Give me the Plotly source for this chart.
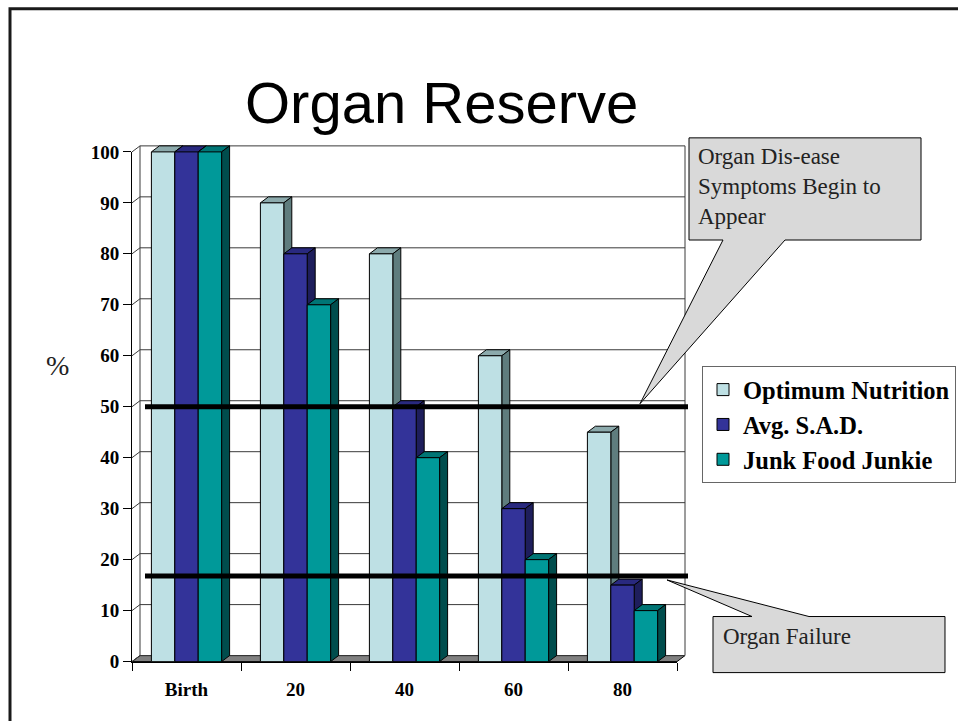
import plotly.graph_objects as go

# ---------------- data ----------------
categories = ["Birth", "20", "40", "60", "80"]
series_names = ["Optimum Nutrition", "Avg. S.A.D.", "Junk Food Junkie"]
optimum_nutrition = [100, 90, 80, 60, 45]
avg_sad = [100, 80, 50, 30, 15]
junk_food_junkie = [100, 70, 40, 20, 10]
y_tick_values = [0, 10, 20, 30, 40, 50, 60, 70, 80, 90, 100]
threshold_levels = [50, 16.8]
title_text = "Organ Reserve"
callout_top_text = "Organ Dis-ease<br>Symptoms Begin to<br>Appear"
callout_bottom_text = "Organ Failure"

series_values = [optimum_nutrition, avg_sad, junk_food_junkie]

# ---------------- style / geometry ----------------
W = 958
H_PAGE = 745
# observed vertical mapping of the photographed page: screen = A + B * page
SY_A, SY_B = 9.3, 0.9705

front_col = ["#BEE0E4", "#333399", "#009999"]
side_col = ["#5F7D7E", "#1E1E5C", "#004D4D"]
top_col = ["#8CAAAC", "#29297F", "#007575"]

# pixel frame (screen) of the front axes
X_L, X_R = 132, 677        # x = -0.5 .. 4.5
Y_0, Y_100 = 660, 151      # value 0 .. 100
PX_PER_X = (X_R - X_L) / 5.0
PX_PER_Y = (Y_0 - Y_100) / 100.0
DX = 8 / PX_PER_X          # 3-D depth, in data units
DY = 6 / PX_PER_Y

BARGAP = 0.356
BW = (1 - BARGAP) / 3.0


def fx(px):
    return px / W


def fy(py):
    page = (py - SY_A) / SY_B
    return 1 - page / H_PAGE


def xpx(x):
    return X_L + (x + 0.5) * PX_PER_X


def ypx(v):
    return Y_0 - v * PX_PER_Y


# base (back) subplot range, extended so 3-D parts are not clipped
BX = [-0.7, 4.8]
BY = [-3.0, 106.0]

fig = go.Figure()

# ---- 3-D top / side faces (base subplot x/y) ----
for j, vals in enumerate(series_values):
    tx, ty, sx, sy = [], [], [], []
    for i, v in enumerate(vals):
        xc = i + (j - 1) * BW
        xl, xr = xc - BW / 2, xc + BW / 2
        tx += [xl, xr, xr + DX, xl + DX, xl, None]
        ty += [v, v, v + DY, v + DY, v, None]
        sx += [xr, xr, xr + DX, xr + DX, xr, None]
        sy += [0, v, v + DY, DY, 0, None]
    fig.add_trace(go.Scatter(x=tx, y=ty, mode="lines", fill="toself",
                             fillcolor=top_col[j], line=dict(color="black", width=1),
                             hoverinfo="skip", showlegend=False, xaxis="x", yaxis="y"))
    fig.add_trace(go.Scatter(x=sx, y=sy, mode="lines", fill="toself",
                             fillcolor=side_col[j], line=dict(color="black", width=1),
                             hoverinfo="skip", showlegend=False, xaxis="x", yaxis="y"))

# ---- front bars (front subplot x2/y2) ----
for j, vals in enumerate(series_values):
    fig.add_trace(go.Bar(x=categories, y=vals, name=series_names[j],
                         marker=dict(color=front_col[j], line=dict(color="black", width=1)),
                         legendgroup=str(j), xaxis="x2", yaxis="y2"))

shapes = []
# floor
shapes.append(dict(type="path", xref="x", yref="y", layer="below",
                   path=f"M {-0.5},{0} L {4.5},{0} L {4.5 + DX},{DY} L {-0.5 + DX},{DY} Z",
                   fillcolor="#808080", line=dict(color="black", width=1)))
# back wall gridlines + left wall diagonals
for v in y_tick_values:
    shapes.append(dict(type="path", xref="x", yref="y", layer="below",
                       path=f"M {-0.5},{v} L {-0.5 + DX},{v + DY} L {4.5 + DX},{v + DY}",
                       line=dict(color="#3a3a3a", width=1)))
# back wall verticals
for xv in [-0.5 + DX, 4.5 + DX]:
    shapes.append(dict(type="line", xref="x", yref="y", layer="below",
                       x0=xv, x1=xv, y0=DY, y1=100 + DY,
                       line=dict(color="#3a3a3a", width=1)))
# threshold lines
line_x0 = -0.5 + (145 - X_L) / PX_PER_X
line_x1 = -0.5 + (688 - X_L) / PX_PER_X
for lv in threshold_levels:
    shapes.append(dict(type="line", xref="x", yref="y", layer="above",
                       x0=line_x0, x1=line_x1, y0=lv, y1=lv,
                       line=dict(color="black", width=5)))


def ppath(pts):
    s = "M " + " L ".join(f"{fx(a):.5f},{fy(b):.5f}" for a, b in pts) + " Z"
    return s


# callout 1
tip1 = (640, ypx(threshold_levels[0]) - 3)
shapes.append(dict(type="path", xref="paper", yref="paper", layer="above",
                   path=ppath([(689, 137), (921, 137), (921, 239), (785, 239), tip1,
                               (723, 239), (689, 239)]),
                   fillcolor="#D9D9D9", line=dict(color="black", width=1)))
# callout 2
tip2 = (667, ypx(threshold_levels[1]) + 4)
shapes.append(dict(type="path", xref="paper", yref="paper", layer="above",
                   path=ppath([(713, 615), (752, 615), tip2, (809, 615), (945, 615),
                               (945, 671), (713, 671)]),
                   fillcolor="#D9D9D9", line=dict(color="black", width=1)))
# slide frame
shapes.append(dict(type="path", xref="paper", yref="paper", layer="above",
                   path=f"M {fx(10)},{fy(760)} L {fx(10)},{fy(8)} L {fx(970)},{fy(8)}",
                   line=dict(color="#1a1a1a", width=3)))

annotations = [
    dict(text=title_text, x=fx(441), y=fy(102), xref="paper", yref="paper",
         showarrow=False, xanchor="center", yanchor="middle",
         font=dict(family="Liberation Sans", size=58, color="black")),
    dict(text="%", x=fx(57), y=fy(364), xref="paper", yref="paper",
         showarrow=False, xanchor="center", yanchor="middle",
         font=dict(family="Liberation Serif", size=28, color="#222")),
    dict(text=callout_top_text, x=fx(696), y=fy(141), xref="paper", yref="paper",
         showarrow=False, xanchor="left", yanchor="top", align="left",
         font=dict(family="Liberation Serif", size=23, color="#222")),
    dict(text=callout_bottom_text, x=fx(721), y=fy(635), xref="paper", yref="paper",
         showarrow=False, xanchor="left", yanchor="middle", align="left",
         font=dict(family="Liberation Serif", size=23, color="#222")),
]

tick_font = dict(family="Liberation Serif", size=19, color="black", weight="bold")

fig.update_layout(
    width=W, height=H_PAGE, autosize=False,
    margin=dict(l=0, r=0, t=0, b=0),
    paper_bgcolor="white", plot_bgcolor="rgba(0,0,0,0)",
    barmode="group", bargap=BARGAP, bargroupgap=0,
    shapes=shapes, annotations=annotations,
    xaxis=dict(domain=[fx(xpx(BX[0])), fx(xpx(BX[1]))], range=BX, visible=False,
               anchor="y", fixedrange=True),
    yaxis=dict(domain=[fy(ypx(BY[0])), fy(ypx(BY[1]))], range=BY, visible=False,
               anchor="x", fixedrange=True),
    xaxis2=dict(domain=[fx(X_L), fx(X_R)], anchor="y2", type="category",
                range=[-0.5, 4.5], tickson="boundaries", ticks="outside", ticklen=8,
                tickcolor="black", showline=True, linecolor="black", linewidth=1,
                showgrid=False, tickfont=tick_font, ticklabelstandoff=11,
                fixedrange=True),
    yaxis2=dict(domain=[fy(Y_0), fy(Y_100)], anchor="x2", range=[0, 100],
                tickvals=y_tick_values, ticks="outside", ticklen=8, tickcolor="black",
                showline=True, linecolor="black", linewidth=1, showgrid=False,
                zeroline=False, tickfont=tick_font, fixedrange=True),
    legend=dict(x=fx(702), y=fy(365), xanchor="left", yanchor="top",
                bgcolor="white", bordercolor="#666", borderwidth=1,
                font=dict(family="Liberation Serif", size=24.5, color="black", weight="bold"),
                tracegroupgap=0, traceorder="grouped"),
    showlegend=True,
)

page_fix = (
    "document.documentElement.style.margin='0';"
    "document.documentElement.style.overflow='hidden';"
    "document.body.style.margin='0';"
    "document.body.style.overflow='hidden';"
    "var gd=document.getElementById('{plot_id}');"
    "gd.style.position='absolute';gd.style.left='0px';gd.style.top='0px';"
)

fig.write_html("out.html", post_script=page_fix,
               config={"responsive": False, "displayModeBar": False})
